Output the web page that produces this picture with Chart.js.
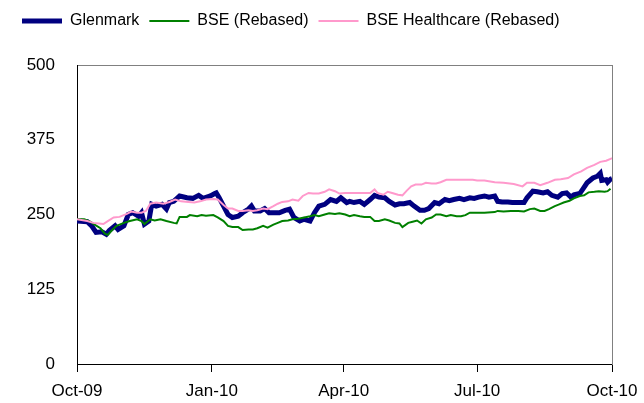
<!DOCTYPE html>
<html>
<head>
<meta charset="utf-8">
<script src="https://cdn.jsdelivr.net/npm/chart.js@4/dist/chart.umd.min.js"></script>
<style>
  html, body { margin: 0; padding: 0; background: #fff; }
  #wrap { width: 644px; height: 403px; }
</style>
</head>
<body>
<div id="wrap"><canvas id="chart" width="644" height="403"></canvas></div>
<script>
// x values are days since 1 Oct 2009
const tickDays = [0, 92, 182, 273, 365];
const tickLabels = ['Oct-09', 'Jan-10', 'Apr-10', 'Jul-10', 'Oct-10'];
const yTicks = [0, 125, 250, 375, 500];

const glenDays = [0,7,10,13,17,20,22,26,28,32,35,38,42,44,46,49,51,54,58,61,63,66,70,75,79,83,86,91,94,95,97,100,103,106,110,113,117,119,121,125,128,131,135,138,142,145,148,152,155,159,162,165,169,173,177,180,184,186,189,193,196,200,203,206,210,213,217,220,223,227,230,234,237,240,244,247,251,254,257,261,264,268,271,274,278,281,285,287,290,294,297,301,305,307,311,314,318,321,324,328,331,334,337,339,343,345,348,352,355,357,358,361,362,364,365];
const glenValues = [239,238,231,220,221,217,223,231,225,231,250,253,247,253,234,239,267,264,267,259,270,272,281,278,277,282,277,281,285,286,278,264,250,245,247,253,259,264,256,256,260,253,253,253,257,259,245,239,242,239,253,264,267,275,272,278,270,272,270,272,267,275,282,279,278,272,266,268,268,270,264,257,257,260,270,268,275,273,275,277,275,278,277,279,281,279,281,272,271,271,270,270,270,278,289,288,286,288,282,279,285,286,279,283,285,292,303,311,314,319,307,308,304,309,310];

const bseDays = [0,5,9,12,16,19,21,24,27,32,36,41,44,46,50,53,57,61,66,68,70,75,77,82,85,88,93,96,100,103,106,110,113,117,120,123,127,130,134,137,140,144,147,151,155,159,162,165,169,172,176,179,183,186,189,193,196,200,203,206,210,213,217,220,222,226,229,232,235,238,242,245,248,252,255,259,262,265,268,272,278,285,287,291,296,301,305,309,312,316,319,322,326,329,332,336,339,343,346,349,353,356,360,362,364];
const bseValues = [242,242,238,233,227,218,216,224,231,236,239,242,239,234,242,240,242,239,236,235,246,246,249,247,249,248,249,245,239,231,229,229,224,225,225,227,231,228,233,236,239,240,242,243,245,247,249,247,250,252,251,252,250,247,249,247,246,246,239,239,242,240,236,235,229,236,238,240,235,242,245,250,250,247,249,247,247,249,253,253,253,254,256,255,256,256,255,259,260,256,256,259,264,267,270,273,277,281,282,287,288,289,288,289,293];

const hcDays = [0,7,11,15,18,21,25,29,34,37,41,44,47,50,54,59,63,67,71,76,80,84,88,93,96,100,103,106,110,113,117,120,123,127,130,134,137,140,144,147,151,154,158,161,165,169,172,176,179,183,186,193,200,203,205,209,212,215,219,222,225,228,231,235,238,242,245,248,252,256,261,265,270,273,278,285,291,298,304,307,312,316,321,326,330,335,339,344,348,353,357,361,364,365];
const hcValues = [242,239,236,235,234,239,245,246,251,255,253,253,256,268,270,268,271,275,272,271,270,272,275,276,275,266,260,260,256,256,257,256,257,260,259,264,268,271,272,275,273,281,286,285,285,288,292,289,285,286,286,286,286,292,286,283,288,286,283,282,290,297,300,300,303,302,302,304,308,308,308,308,308,307,307,304,303,301,297,303,303,299,303,308,309,311,317,322,328,333,338,340,343,344];

const FONT = '"Liberation Sans", Arial, sans-serif';

function toPoints(days, values) {
    return days.map((d, i) => ({ x: d, y: values[i] }));
}

// extra room under the legend
const legendGap = {
    id: 'legendGap',
    beforeInit(chart) {
        const fit = chart.legend.fit;
        chart.legend.fit = function () {
            fit.call(this);
            this.height += 26;
        };
    }
};

new Chart(document.getElementById('chart'), {
    type: 'line',
    data: {
        datasets: [{
            label: 'Glenmark',
            data: toPoints(glenDays, glenValues),
            borderColor: '#000080',
            borderWidth: 5,
            order: 3
        }, {
            label: 'BSE (Rebased)',
            data: toPoints(bseDays, bseValues),
            borderColor: '#008000',
            borderWidth: 2,
            order: 2
        }, {
            label: 'BSE Healthcare (Rebased)',
            data: toPoints(hcDays, hcValues),
            borderColor: '#ff99cc',
            borderWidth: 2,
            order: 1
        }]
    },
    options: {
        responsive: false,
        animation: false,
        layout: { padding: { left: 12, right: 0, top: 3, bottom: 0 } },
        elements: {
            point: { radius: 0 },
            line: { tension: 0 }
        },
        scales: {
            x: {
                type: 'linear',
                min: 0,
                max: 365,
                afterBuildTicks: (s) => { s.ticks = tickDays.map(v => ({ value: v })); },
                afterFit: (s) => {
                    s.height = 39;
                    s.paddingLeft = 0;
                    s.paddingRight = 32;
                },
                ticks: {
                    autoSkip: false,
                    maxRotation: 0,
                    padding: 9,
                    color: '#000',
                    font: { family: FONT, size: 17 },
                    callback: (v) => tickLabels[tickDays.indexOf(v)]
                },
                grid: { display: true, drawOnChartArea: false, drawTicks: true, tickLength: 8, color: '#000' },
                border: { color: '#000', width: 1 }
            },
            xTop: {
                type: 'linear',
                position: 'top',
                min: 0,
                max: 365,
                afterFit: (s) => { s.height = 0; s.paddingLeft = 0; s.paddingRight = 0; },
                ticks: { display: false },
                grid: { display: false, drawTicks: false },
                border: { color: '#808080', width: 1 }
            },
            y: {
                min: 0,
                max: 500,
                afterBuildTicks: (s) => { s.ticks = yTicks.map(v => ({ value: v })); },
                afterFit: (s) => { s.width = 65; },
                ticks: {
                    padding: 22,
                    color: '#000',
                    font: { family: FONT, size: 17 }
                },
                grid: { display: false, drawTicks: false },
                border: { color: '#000', width: 1 }
            },
            yRight: {
                position: 'right',
                min: 0,
                max: 500,
                afterFit: (s) => { s.width = 0; },
                ticks: { display: false },
                grid: { display: false, drawTicks: false },
                border: { color: '#808080', width: 1 }
            }
        },
        plugins: {
            legend: {
                position: 'top',
                align: 'start',
                labels: {
                    usePointStyle: true,
                    pointStyle: 'line',
                    pointStyleWidth: 40,
                    padding: 10,
                    color: '#000',
                    font: { family: FONT, size: 16 },
                    sort: (a, b) => a.datasetIndex - b.datasetIndex
                }
            },
            tooltip: { enabled: false }
        }
    },
    plugins: [legendGap]
});
</script>
</body>
</html>
